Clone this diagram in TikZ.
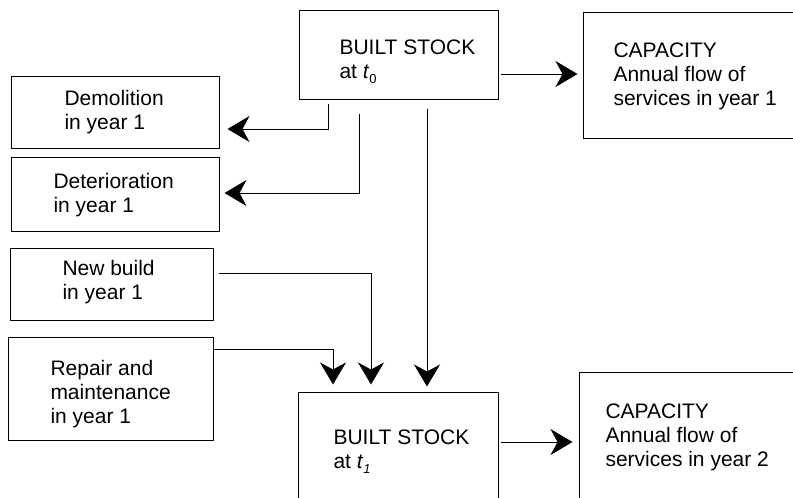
\documentclass[tikz,border=0pt]{standalone}
\usepackage{fontspec}
\setmainfont{Liberation Sans}
\usetikzlibrary{arrows.meta}
\newcommand\mystack[1]{\vtop{\baselineskip=24pt\lineskiplimit=-100pt\lineskip=0pt\halign{##\hfil\cr#1\crcr}}}
\newcommand\tsub[1]{\raisebox{-5pt}{\fontsize{13}{13}\selectfont #1}}
\begin{document}
\begin{tikzpicture}[x=1pt, y=-1pt, line width=1pt,
  font=\fontsize{21}{24}\selectfont,
  box/.style={draw, rectangle, inner sep=0pt, line width=1pt},
  txt/.style={anchor=base west, inner sep=0pt},
  arr/.style={-{Stealth[length=22pt,width=26pt,inset=7pt]}, line width=1pt}]
\useasboundingbox (0,0) rectangle (793,498);
\clip (0,0) rectangle (793,498);
% boxes
\node[box, minimum width=199pt, minimum height=89pt]  (B0)   at (398.5,54.5) {};
\node[box, minimum width=217pt, minimum height=126pt] (cap1) at (691.5,75) {};
\node[box, minimum width=208pt, minimum height=72pt]  (dem)  at (115,112) {};
\node[box, minimum width=208pt, minimum height=74pt]  (det)  at (115,194) {};
\node[box, minimum width=203pt, minimum height=72pt]  (nb)   at (111.5,284) {};
\node[box, minimum width=205pt, minimum height=103pt] (rep)  at (110.5,388.5) {};
\node[box, minimum width=200pt, minimum height=128pt] (B1)   at (398,456) {};
\node[box, minimum width=221pt, minimum height=148pt] (cap2) at (689.5,446) {};
% texts
\node[txt] (tB0)   at (339,54)  {\mystack{BUILT STOCK\cr at \textit{t}\tsub{0}}};
\node[txt] (tcap1) at (613,57)  {\mystack{CAPACITY\cr Annual flow of\cr services in year 1}};
\node[txt] (tdem)  at (64,105)  {\mystack{Demolition\cr in year 1}};
\node[txt] (tdet)  at (53,188)  {\mystack{Deterioration\cr in year 1}};
\node[txt] (tnb)   at (62,275)  {\mystack{New build\cr in year 1}};
\node[txt] (trep)  at (50,375)  {\mystack{Repair and\cr maintenance\cr in year 1}};
\node[txt] (tB1)   at (333,444) {\mystack{BUILT STOCK\cr at \textit{t}\tsub{\textit{1}}}};
\node[txt] (tcap2) at (605,418) {\mystack{CAPACITY\cr Annual flow of\cr services in year 2}};
% connectors
\draw[arr] (B0.east |- 0,74) ++(2,0) -- ([xshift=-5pt]cap1.west |- 0,74);
\draw[arr] (B0.south -| 328,0) ++(0,4) |- ([xshift=8pt]dem.east |- 0,129);
\draw[arr] (B0.south -| 359,0) ++(0,14) |- ([xshift=5pt]det.east |- 0,193);
\draw[arr] (B0.south -| 427,0) ++(0,9) -- ([yshift=5pt]B1.north -| 427,0);
\draw[arr] (nb.east |- 0,273) ++(5,0) -| ([yshift=7pt]B1.north -| 371,0);
\draw[arr] (rep.east |- 0,349) -| ([yshift=7pt]B1.north -| 333,0);
\draw[arr] (B1.east |- 0,442) ++(2,0) -- ([xshift=-6pt]cap2.west |- 0,442);
\end{tikzpicture}
\end{document}
